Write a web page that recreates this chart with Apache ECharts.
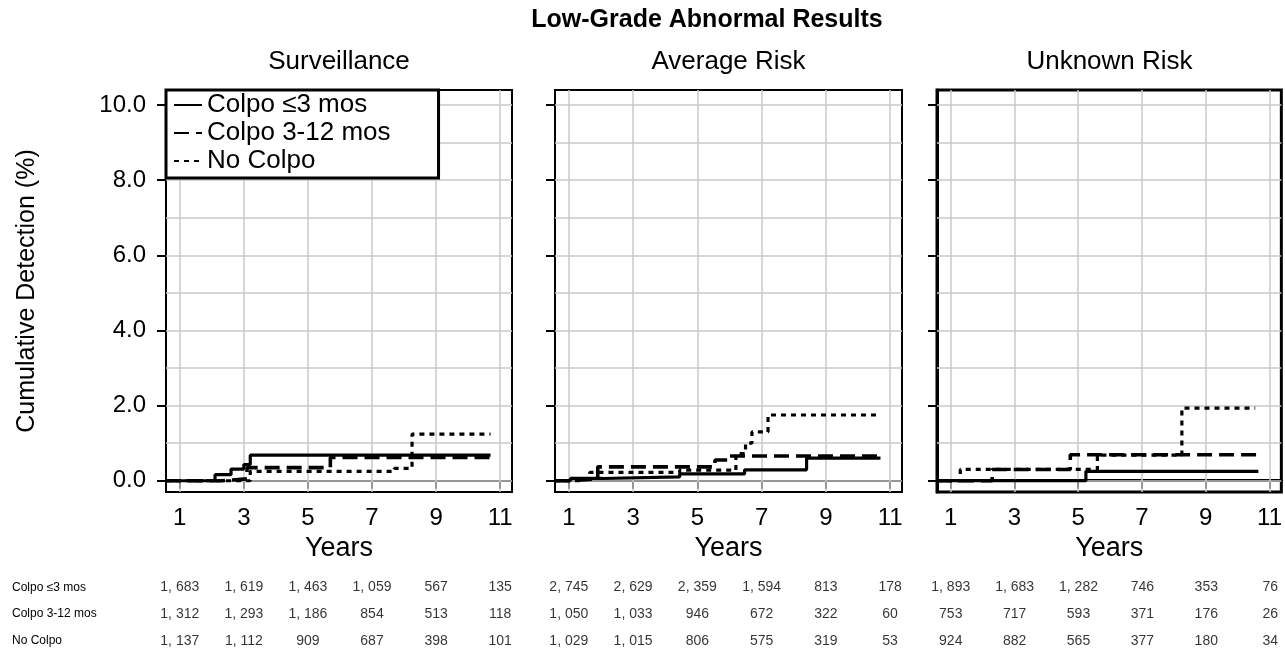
<!DOCTYPE html>
<html>
<head>
<meta charset="utf-8">
<script src="https://cdn.jsdelivr.net/npm/echarts@6/dist/echarts.min.js"></script>
<style>html,body{margin:0;padding:0;background:#fff}#c{width:1285px;height:654px}</style>
</head>
<body>
<div id="c"></div>
<script>
// ---- data ----
const years = [1, 3, 5, 7, 9, 11];
const yTicks = [0, 2, 4, 6, 8, 10];
const yGrid = [0, 1, 2, 3, 4, 5, 6, 7, 8, 9, 10];
const panelTitles = ['Surveillance', 'Average Risk', 'Unknown Risk'];
const groupNames = ['Colpo ≤3 mos', 'Colpo 3-12 mos', 'No Colpo'];

// step curves: [year, cumulative detection %]
const survColpo3 = [[0.57,0],[2.1,0.16],[2.6,0.31],[3.0,0.43],[3.2,0.68],[10.7,0.68]];
const survColpo312 = [[0.57,0],[2.3,0.05],[3.1,0.35],[5.7,0.62],[10.7,0.62]];
const survNoColpo = [[0.57,0],[3.2,0.25],[7.7,0.33],[8.25,1.24],[10.7,1.24]];

const avgColpo3 = [[0.57,0],[1.05,0.06],[2.05,0.1],[4.45,0.18],[6.47,0.29],[8.4,0.6],[10.7,0.6]];
const avgColpo312 = [[0.57,0],[1.05,0.05],[1.9,0.37],[5.55,0.55],[5.95,0.66],[10.7,0.66]];
const avgNoColpo = [[0.57,0],[1.3,0.05],[1.65,0.22],[4.45,0.28],[6.2,0.72],[6.5,1.0],[6.7,1.3],[7.2,1.75],[10.7,1.75]];

const unkColpo3 = [[0.57,0],[5.24,0.25],[10.65,0.25]];
const unkColpo312 = [[0.57,0],[2.3,0.3],[4.75,0.69],[10.7,0.69]];
const unkNoColpo = [[0.57,0],[1.3,0.3],[5.6,0.68],[8.25,1.93],[10.55,1.93]];

// numbers at risk
const survRisk3 = ['1, 683','1, 619','1, 463','1, 059','567','135'];
const survRisk312 = ['1, 312','1, 293','1, 186','854','513','118'];
const survRiskNo = ['1, 137','1, 112','909','687','398','101'];
const avgRisk3 = ['2, 745','2, 629','2, 359','1, 594','813','178'];
const avgRisk312 = ['1, 050','1, 033','946','672','322','60'];
const avgRiskNo = ['1, 029','1, 015','806','575','319','53'];
const unkRisk3 = ['1, 893','1, 683','1, 282','746','353','76'];
const unkRisk312 = ['753','717','593','371','176','26'];
const unkRiskNo = ['924','882','565','377','180','34'];

// ---- build ----
const curves = [
  [survColpo3, survColpo312, survNoColpo],
  [avgColpo3, avgColpo312, avgNoColpo],
  [unkColpo3, unkColpo312, unkNoColpo]
];
const risks = [
  [survRisk3, survRisk312, survRiskNo],
  [avgRisk3, avgRisk312, avgRiskNo],
  [unkRisk3, unkRisk312, unkRiskNo]
];
const FONT = '"Liberation Sans", Arial, sans-serif';
const lefts = [166, 555, 937];
const widths = [346, 347, 345];
const borderW = [2, 2, 3];
const styles = [
  {type: 'solid', width: 3.2},
  {type: [15, 7], width: 3.6},
  {type: [5, 5], width: 3.2}
];
const XMIN = 0.57, XMAX = 11.37, YMIN = -0.3, YMAX = 10.4;

const grid = [], xAxis = [], yAxis = [], series = [], title = [];
title.push({text: 'Low-Grade Abnormal Results', left: 707, top: 8, textAlign: 'center', padding: 0,
  textStyle: {fontSize: 25, fontWeight: 'bold', color: '#000', fontFamily: FONT}});

for (let p = 0; p < 3; p++) {
  grid.push({left: lefts[p], top: 90, width: widths[p], height: 402, show: true,
    borderColor: '#000', borderWidth: borderW[p], backgroundColor: 'transparent'});
  title.push({text: panelTitles[p], left: lefts[p] + widths[p] / 2, top: 49, textAlign: 'center', padding: 0,
    textStyle: {fontSize: 26, fontWeight: 'normal', color: '#000', fontFamily: FONT}});
  xAxis.push({type: 'value', gridIndex: p, min: XMIN, max: XMAX,
    name: 'Years', nameLocation: 'middle', nameGap: 40,
    nameTextStyle: {fontSize: 27, color: '#000', fontFamily: FONT},
    axisLine: {show: true, lineStyle: {color: '#000', width: borderW[p]}},
    axisTick: {show: true, customValues: years, length: 8, lineStyle: {color: '#000', width: 2}},
    axisLabel: {show: true, customValues: years, margin: 14, fontSize: 24, color: '#000', fontFamily: FONT},
    splitLine: {show: false}});
  yAxis.push({type: 'value', gridIndex: p, min: YMIN, max: YMAX,
    name: p === 0 ? 'Cumulative Detection (%)' : '', nameLocation: 'middle', nameGap: 126,
    nameTextStyle: {fontSize: 25, color: '#000', fontFamily: FONT},
    axisLine: {show: true, lineStyle: {color: '#000', width: borderW[p]}},
    axisTick: {show: true, customValues: yTicks, length: 9, lineStyle: {color: '#000', width: 2}},
    axisLabel: {show: p === 0, customValues: yTicks, margin: 20, fontSize: 24, color: '#000', fontFamily: FONT,
      formatter: v => Number(v).toFixed(1)},
    splitLine: {show: false}});
  // grid lines via markLine
  series.push({type: 'line', xAxisIndex: p, yAxisIndex: p, data: [[1, 0]], symbol: 'none', silent: true,
    lineStyle: {width: 0, opacity: 0}, z: 1,
    markLine: {silent: true, symbol: 'none', z: 1, animation: false, label: {show: false},
      lineStyle: {color: '#c9c9c9', width: 1.5, type: 'solid'},
      emphasis: {disabled: true},
      data: years.map(v => ({xAxis: v})).concat(yGrid.map(v => ({yAxis: v})))}});
  for (let g = 0; g < 3; g++) {
    series.push({type: 'line', name: groupNames[g], xAxisIndex: p, yAxisIndex: p,
      data: curves[p][g], step: 'end', symbol: 'none', z: 3,
      itemStyle: {color: '#000'},
      lineStyle: {color: '#000', width: styles[g].width, type: styles[g].type, cap: 'butt'}});
  }
}

// at-risk table grids
for (let p = 0; p < 3; p++) {
  const gi = 3 + p;
  grid.push({left: lefts[p], top: 574, width: widths[p], height: 82, show: false});
  xAxis.push({type: 'value', gridIndex: gi, min: XMIN, max: XMAX, show: false});
  yAxis.push({type: 'category', gridIndex: gi, data: groupNames, inverse: true, show: p === 0,
    axisLine: {show: false}, axisTick: {show: false}, splitLine: {show: false},
    axisLabel: {show: p === 0, align: 'left', margin: 154, fontSize: 12, color: '#000', fontFamily: FONT}});
  for (let g = 0; g < 3; g++) {
    series.push({type: 'scatter', xAxisIndex: gi, yAxisIndex: gi, symbolSize: 1, silent: true,
      itemStyle: {color: 'rgba(0,0,0,0)'},
      label: {show: true, position: 'inside', color: '#000', fontSize: 14, fontFamily: FONT,
        formatter: pr => pr.data[2]},
      data: years.map((y, i) => [y, groupNames[g], risks[p][g][i]])});
  }
}

const chart = echarts.init(document.getElementById('c'), null, {renderer: 'canvas'});
chart.setOption({
  backgroundColor: '#fff',
  animation: false,
  title: title,
  legend: {data: groupNames, orient: 'vertical', left: 166, top: 90, z: 10,
    backgroundColor: '#fff', borderColor: '#000', borderWidth: 3, borderRadius: 0,
    padding: [2, 48, 4, 7], itemGap: 2, itemWidth: 28, itemHeight: 16,
    itemStyle: {opacity: 0},
    textStyle: {fontSize: 26, color: '#000', fontFamily: FONT}},
  grid: grid,
  xAxis: xAxis,
  yAxis: yAxis,
  series: series
});
</script>
</body>
</html>
